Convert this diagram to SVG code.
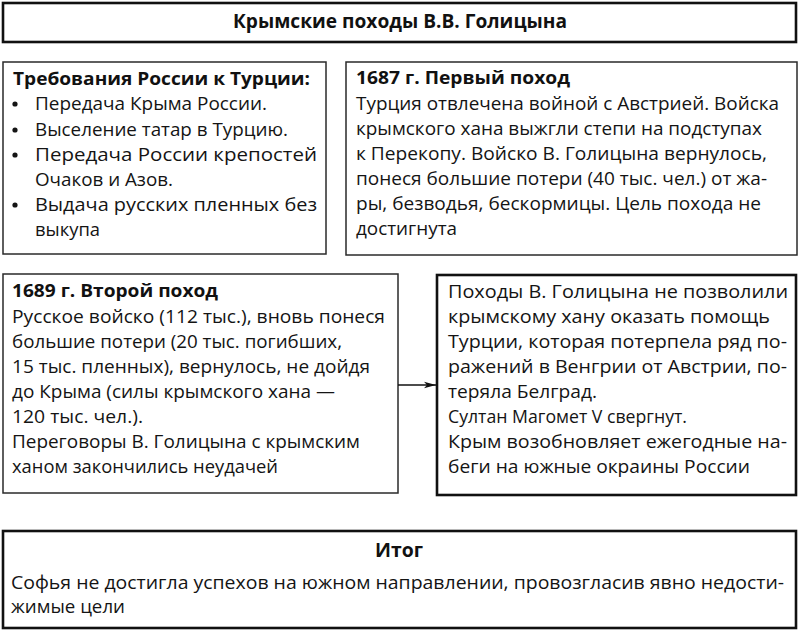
<svg xmlns="http://www.w3.org/2000/svg" width="800" height="633" viewBox="0 0 800 633">
<defs>
<style>
.thin{fill:#fff;stroke:#2a2a2a;stroke-width:1.5}
.thick{fill:#fff;stroke:#111;stroke-width:2.6}
.t{font-family:"Open Sans","Noto Sans","Liberation Sans",sans-serif;font-size:17.5px;fill:#141414}
.b{font-family:"Open Sans","Noto Sans","Liberation Sans",sans-serif;font-size:17.5px;font-weight:bold;fill:#111}
.hb{font-family:"Open Sans","Noto Sans","Liberation Sans",sans-serif;font-size:19px;font-weight:bold;fill:#111}
.dot{fill:#141414}
</style>
<marker id="arr" viewBox="0 0 12 8" refX="12" refY="4" markerWidth="12" markerHeight="8" markerUnits="userSpaceOnUse" orient="auto">
<path d="M0,0.8 L12,4 L0,7.2 L3,4 Z" fill="#111"/>
</marker>
</defs>
<rect width="800" height="633" fill="#fff"/>

<g id="title">
<rect class="thick" x="3" y="3" width="793" height="39"/>
<text class="hb" x="233" y="28" textLength="334" lengthAdjust="spacingAndGlyphs">Крымские походы В.В. Голицына</text>
</g>

<g id="demands">
<rect class="thin" x="3" y="62" width="323" height="192"/>
<text class="b" x="13" y="85" textLength="297" lengthAdjust="spacingAndGlyphs">Требования России к Турции:</text>
<circle class="dot" cx="15" cy="104" r="2.6"/>
<text class="t" x="35" y="110" textLength="232" lengthAdjust="spacingAndGlyphs">Передача Крыма России.</text>
<circle class="dot" cx="15" cy="130" r="2.6"/>
<text class="t" x="35" y="136" textLength="253" lengthAdjust="spacingAndGlyphs">Выселение татар в Турцию.</text>
<circle class="dot" cx="15" cy="155" r="2.6"/>
<text class="t" x="35" y="161" textLength="282" lengthAdjust="spacingAndGlyphs">Передача России крепостей</text>
<text class="t" x="35" y="186" textLength="138" lengthAdjust="spacingAndGlyphs">Очаков и Азов.</text>
<circle class="dot" cx="15" cy="205" r="2.6"/>
<text class="t" x="35" y="211" textLength="282" lengthAdjust="spacingAndGlyphs">Выдача русских пленных без</text>
<text class="t" x="35" y="236" textLength="65" lengthAdjust="spacingAndGlyphs">выкупа</text>
</g>

<g id="first">
<rect class="thin" x="346" y="62" width="451" height="193"/>
<text class="b" x="356" y="84" textLength="214" lengthAdjust="spacingAndGlyphs">1687 г. Первый поход</text>
<text class="t" x="356" y="110" textLength="423" lengthAdjust="spacingAndGlyphs">Турция отвлечена войной с Австрией. Войска</text>
<text class="t" x="356" y="135" textLength="406" lengthAdjust="spacingAndGlyphs">крымского хана выжгли степи на подступах</text>
<text class="t" x="356" y="160" textLength="411" lengthAdjust="spacingAndGlyphs">к Перекопу. Войско В. Голицына вернулось,</text>
<text class="t" x="356" y="185" textLength="411" lengthAdjust="spacingAndGlyphs">понеся большие потери (40 тыс. чел.) от жа-</text>
<text class="t" x="356" y="210" textLength="405" lengthAdjust="spacingAndGlyphs">ры, безводья, бескормицы. Цель похода не</text>
<text class="t" x="356" y="235" textLength="101" lengthAdjust="spacingAndGlyphs">достигнута</text>
</g>

<g id="second">
<rect class="thin" x="3" y="274" width="395" height="219"/>
<text class="b" x="12" y="297" textLength="206" lengthAdjust="spacingAndGlyphs">1689 г. Второй поход</text>
<text class="t" x="12" y="323" textLength="373" lengthAdjust="spacingAndGlyphs">Русское войско (112 тыс.), вновь понеся</text>
<text class="t" x="12" y="348" textLength="330" lengthAdjust="spacingAndGlyphs">большие потери (20 тыс. погибших,</text>
<text class="t" x="12" y="373" textLength="358" lengthAdjust="spacingAndGlyphs">15 тыс. пленных), вернулось, не дойдя</text>
<text class="t" x="12" y="398" textLength="323" lengthAdjust="spacingAndGlyphs">до Крыма (силы крымского хана —</text>
<text class="t" x="12" y="423" textLength="131" lengthAdjust="spacingAndGlyphs">120 тыс. чел.).</text>
<text class="t" x="12" y="448" textLength="348" lengthAdjust="spacingAndGlyphs">Переговоры В. Голицына с крымским</text>
<text class="t" x="12" y="473" textLength="266" lengthAdjust="spacingAndGlyphs">ханом закончились неудачей</text>
</g>

<g id="result">
<rect class="thick" x="437" y="275" width="359" height="220"/>
<text class="t" x="448" y="298" textLength="340" lengthAdjust="spacingAndGlyphs">Походы В. Голицына не позволили</text>
<text class="t" x="448" y="323" textLength="322" lengthAdjust="spacingAndGlyphs">крымскому хану оказать помощь</text>
<text class="t" x="448" y="348" textLength="339" lengthAdjust="spacingAndGlyphs">Турции, которая потерпела ряд по-</text>
<text class="t" x="448" y="373" textLength="339" lengthAdjust="spacingAndGlyphs">ражений в Венгрии от Австрии, по-</text>
<text class="t" x="448" y="398" textLength="149" lengthAdjust="spacingAndGlyphs">теряла Белград.</text>
<text class="t" x="448" y="423" textLength="239" lengthAdjust="spacingAndGlyphs">Султан Магомет V свергнут.</text>
<text class="t" x="448" y="448" textLength="339" lengthAdjust="spacingAndGlyphs">Крым возобновляет ежегодные на-</text>
<text class="t" x="448" y="473" textLength="302" lengthAdjust="spacingAndGlyphs">беги на южные окраины России</text>
</g>

<g id="connectors">
<line x1="398" y1="385" x2="436" y2="385" stroke="#111" stroke-width="1.5" marker-end="url(#arr)"/>
</g>

<g id="summary">
<rect class="thick" x="3" y="531" width="793" height="97"/>
<text class="hb" x="375" y="557" textLength="48" lengthAdjust="spacingAndGlyphs">Итог</text>
<text class="t" x="11" y="589" textLength="773" lengthAdjust="spacingAndGlyphs">Софья не достигла успехов на южном направлении, провозгласив явно недости-</text>
<text class="t" x="11" y="613" textLength="114" lengthAdjust="spacingAndGlyphs">жимые цели</text>
</g>
</svg>
